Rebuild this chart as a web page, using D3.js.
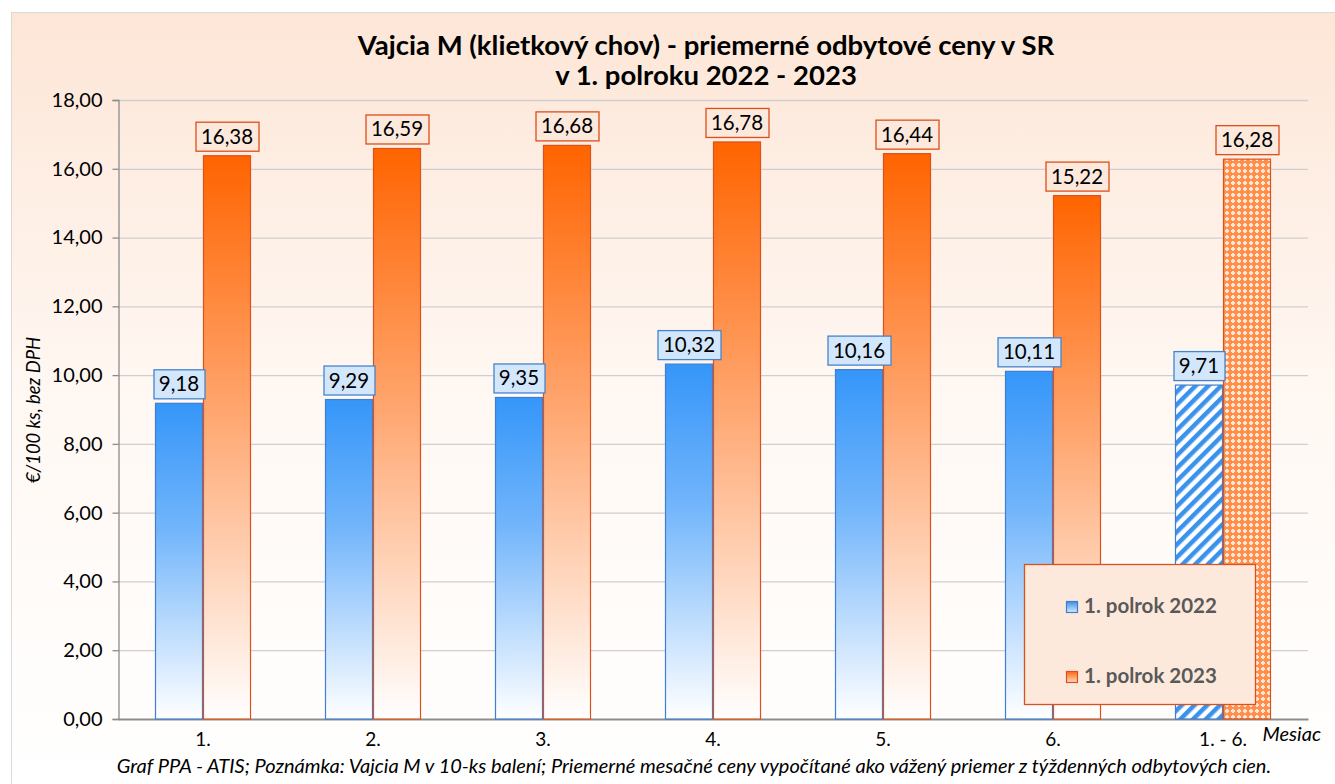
<!DOCTYPE html>
<html><head><meta charset="utf-8">
<script src="https://cdn.jsdelivr.net/npm/d3@7"></script>
<style>
body{margin:0;background:#fff;}
svg{display:block;font-family:Lato,"Noto Sans",sans-serif;}
</style></head>
<body>
<svg id="c" width="1335" height="784"></svg>
<script>
const categories = ["1.","2.","3.","4.","5.","6.","1. - 6."];
const series2022 = [9.18, 9.29, 9.35, 10.32, 10.16, 10.11, 9.71];
const series2023 = [16.38, 16.59, 16.68, 16.78, 16.44, 15.22, 16.28];
const seriesNames = ["1. polrok 2022", "1. polrok 2023"];
const yTicks = [0,2,4,6,8,10,12,14,16,18];
const titleLines = ["Vajcia M (klietkový chov) - priemerné odbytové ceny v SR", "v 1. polroku 2022 - 2023"];
const yLabel = "€/100 ks, bez DPH";
const xLabel = "Mesiac";
const footer = "Graf PPA - ATIS; Poznámka: Vajcia M v 10-ks balení; Priemerné mesačné ceny vypočítané ako vážený priemer z týždenných odbytových cien.";

const svg = d3.select("#c");
const defs = svg.append("defs");
const fmt = v => v.toFixed(2).replace(".", ",");

function lin(id, stops){
  const g = defs.append("linearGradient").attr("id", id).attr("x1",0).attr("y1",0).attr("x2",0).attr("y2",1);
  stops.forEach(s => g.append("stop").attr("offset", s[0]).attr("stop-color", s[1]));
}
lin("bg", [[0,"#fde6d7"],[0.5,"#fff8f3"],[1,"#ffffff"]]);
lin("gBlue", [[0,"#3596f9"],[0.4,"#72b5fb"],[1,"#ffffff"]]);
lin("gOrange", [[0,"#ff6400"],[0.45,"#ffa56e"],[1,"#ffffff"]]);
lin("lgBlue", [[0,"#3b8fe8"],[1,"#d8eafc"]]);
lin("lgOrange", [[0,"#ff6a10"],[1,"#ffd9c0"]]);

const ps = defs.append("pattern").attr("id","stripe").attr("patternUnits","userSpaceOnUse")
  .attr("width",9).attr("height",9).attr("patternTransform","rotate(45)");
ps.append("rect").attr("width",9).attr("height",9).attr("fill","#ffffff");
ps.append("rect").attr("width",4.5).attr("height",9).attr("fill","#3a92ec");
const pc = defs.append("pattern").attr("id","cross").attr("patternUnits","userSpaceOnUse")
  .attr("width",6).attr("height",6);
pc.append("rect").attr("width",6).attr("height",6).attr("fill","#ff8f4a");
pc.append("rect").attr("x",2).attr("y",1).attr("width",2).attr("height",4).attr("fill","#ffe6d6");
pc.append("rect").attr("x",1).attr("y",2).attr("width",4).attr("height",2).attr("fill","#ffe6d6");

svg.append("rect").attr("x",11.5).attr("y",12.5).attr("width",1330).attr("height",780)
  .attr("fill","url(#bg)").attr("stroke","#d9d9d9").attr("stroke-width",1);

const mLeft = 118, mRight = 1308, mTop = 100, mBottom = 719;
const x0 = d3.scaleBand().domain(categories).range([mLeft, mRight]).paddingInner(0).paddingOuter(0);
const barW = 48;
const y = d3.scaleLinear().domain([0,18]).range([mBottom, mTop]);

svg.append("g").selectAll("line").data(yTicks.filter(t=>t>0)).join("line")
  .attr("x1",mLeft).attr("x2",mRight).attr("y1",d=>y(d)+0.5).attr("y2",d=>y(d)+0.5)
  .attr("stroke","#cfcfcf").attr("stroke-width",1.3);

const yAxis = d3.axisLeft(y).tickValues(yTicks).tickFormat(fmt).tickSize(6).tickPadding(10);
const ya = svg.append("g").attr("transform",`translate(${mLeft+0.5},0)`).call(yAxis);
ya.select(".domain").attr("stroke","#8c8c8c").attr("stroke-width",1.3);
ya.selectAll(".tick line").attr("stroke","#8c8c8c").attr("stroke-width",1.3);
ya.selectAll("text").attr("fill","#000").style("font-size","20px").style("font-family","Lato");

const xAxis = d3.axisBottom(x0).tickSize(0).tickPadding(14);
const xa = svg.append("g").attr("transform",`translate(0,${mBottom})`).call(xAxis);
xa.select(".domain").attr("stroke","#8c8c8c").attr("stroke-width",2);
xa.selectAll("text").attr("fill","#000").style("font-size","19px").style("font-family","Lato");

const cx = d => x0(d) + x0.bandwidth()/2;
const g = svg.append("g");
const n = categories.length;
g.selectAll("rect.b22").data(categories).join("rect")
  .attr("x", d => cx(d) - barW + 0.5)
  .attr("y", (d,i) => y(series2022[i]))
  .attr("width", barW-1)
  .attr("height", (d,i) => y(0) - y(series2022[i]))
  .attr("fill", (d,i) => i === n-1 ? "url(#stripe)" : "url(#gBlue)")
  .attr("stroke", "#3f7ed0").attr("stroke-width", 1.2);
g.selectAll("rect.b23").data(categories).join("rect")
  .attr("x", d => cx(d) + 0.5)
  .attr("y", (d,i) => y(series2023[i]))
  .attr("width", barW-1)
  .attr("height", (d,i) => y(0) - y(series2023[i]))
  .attr("fill", (d,i) => i === n-1 ? "url(#cross)" : "url(#gOrange)")
  .attr("stroke", "#d9521d").attr("stroke-width", 1.2);

function labels(vals, offset, fill, stroke){
  const lg = svg.append("g");
  categories.forEach((c,i) => {
    const v = vals[i];
    const w = v >= 10 ? 63 : 51;
    const lx = cx(c) + offset;
    const by = y(v) - 4;
    lg.append("rect").attr("x", lx - w/2 + 0.5).attr("y", by - 30 + 0.5).attr("width", w).attr("height", 29)
      .attr("fill", fill).attr("stroke", stroke).attr("stroke-width", 1.3);
    lg.append("text").attr("x", lx).attr("y", by - 8).attr("text-anchor","middle")
      .style("font-size","20.5px").attr("fill","#000").text(fmt(v));
  });
}
labels(series2022, -barW/2, "#d3e7fc", "#4584cc");
labels(series2023, barW/2, "#fde9dc", "#dc4f1a");

svg.append("text").attr("x",706).attr("y",55).attr("text-anchor","middle")
  .style("font-size","27.5px").style("font-weight","bold").attr("fill","#000").text(titleLines[0]);
svg.append("text").attr("x",706).attr("y",85).attr("text-anchor","middle")
  .style("font-size","27.5px").style("font-weight","bold").attr("fill","#000").text(titleLines[1]);

svg.append("text").attr("transform","translate(40,410) rotate(-90)").attr("text-anchor","middle")
  .style("font-size","18.4px").style("font-style","italic").attr("fill","#000").text(yLabel);

svg.append("text").attr("x",1321).attr("y",741).attr("text-anchor","end")
  .style("font-size","20px").style("font-style","italic").attr("fill","#000").text(xLabel);

svg.append("text").attr("x",694).attr("y",773).attr("text-anchor","middle")
  .style("font-size","20px").style("font-style","italic").attr("fill","#000").text(footer);

const lgx = 1024, lgy = 564;
svg.append("rect").attr("x",lgx+0.5).attr("y",lgy+0.5).attr("width",231).attr("height",140)
  .attr("fill","#fde9dc").attr("stroke","#d9521d").attr("stroke-width",1.3);
const lfills = ["url(#lgBlue)","url(#lgOrange)"], lstrokes = ["#3f7ed0","#d9521d"];
seriesNames.forEach((s,i) => {
  const ly = lgy + 37 + i*70;
  svg.append("rect").attr("x",lgx+42.5).attr("y",ly+0.5).attr("width",11).attr("height",11)
    .attr("fill",lfills[i]).attr("stroke",lstrokes[i]).attr("stroke-width",1.2);
  svg.append("text").attr("x",lgx+60).attr("y",ly+12).style("font-size","20.5px").style("font-weight","bold")
    .attr("fill","#595959").text(s);
});
</script>
</body></html>
